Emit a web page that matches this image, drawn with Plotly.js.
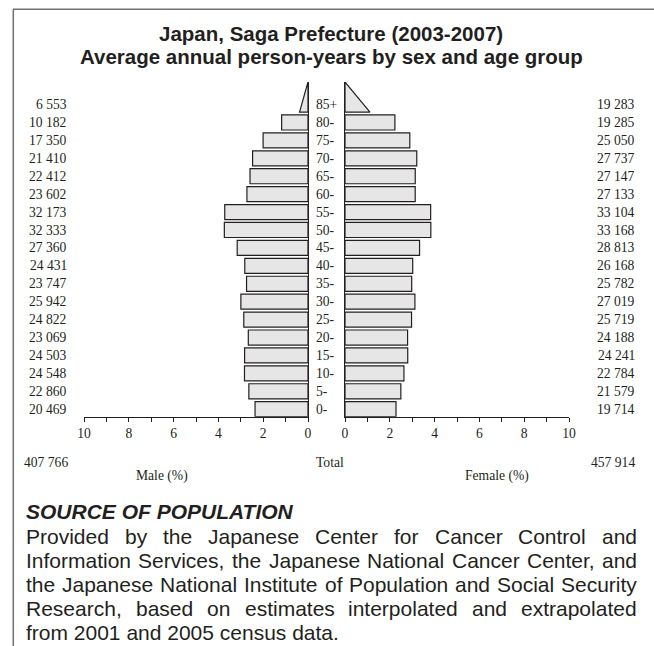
<!DOCTYPE html>
<html><head><meta charset="utf-8">
<script src="https://cdn.plot.ly/plotly-3.0.1.min.js"></script>
<style>html,body{margin:0;padding:0;background:#fff;} #chart{width:654px;height:646px;}</style>
</head><body><div id="chart"></div>
<script>
// ---- data ----
const ageGroups = ['0-','5-','10-','15-','20-','25-','30-','35-','40-','45-','50-','55-','60-','65-','70-','75-','80-','85+'];
const malePersonYears = [20469,22860,24548,24503,23069,24822,25942,23747,24431,27360,32333,32173,23602,22412,21410,17350,10182,6553];
const femalePersonYears = [19714,21579,22784,24241,24188,25719,27019,25782,26168,28813,33168,33104,27133,27147,27737,25050,19285,19283];
const maleTotal = 407766;
const femaleTotal = 457914;
const axisTicks = [0,2,4,6,8,10];
const titleLines = ['Japan, Saga Prefecture (2003-2007)','Average annual person-years by sex and age group'];
const sourceHeading = 'SOURCE OF POPULATION';
const sourceLines = [
  'Provided by the Japanese Center for Cancer Control and',
  'Information Services, the Japanese National Cancer Center, and',
  'the Japanese National Institute of Population and Social Security',
  'Research, based on estimates interpolated and extrapolated',
  'from 2001 and 2005 census data.'
];

// ---- derived ----
const W = 654, H = 646;
const grand = maleTotal + femaleTotal;
const malePct = malePersonYears.map(v => v / grand * 100);
const femalePct = femalePersonYears.map(v => v / grand * 100);
const n = ageGroups.length;
const idx = ageGroups.map((_, i) => i);
const last = n - 1;
const barW = 0.84;
const yLow = -barW / 2, yTop = last + 1.26;
const fmt = v => String(v).replace(/\B(?=(\d{3})+(?!\d))/g, ' ');
const ink = '#231f20', fill = '#e6e6e6';
const px = x => x / W, py = y => 1 - y / H;

const barLine = {color: ink, width: 1.2};
const traces = [
  {type:'bar', orientation:'h', x: malePct.slice(0, last), y: idx.slice(0, last), width: barW,
   marker:{color: fill, line: barLine}, xaxis:'x', yaxis:'y', hoverinfo:'none'},
  {type:'bar', orientation:'h', x: femalePct.slice(0, last), y: idx.slice(0, last), width: barW,
   marker:{color: fill, line: barLine}, xaxis:'x2', yaxis:'y2', hoverinfo:'none'},
  {type:'scatter', mode:'lines', x:[0, malePct[last]/2, 0, 0], y:[last+yLow, last+yLow, yTop, last+yLow],
   fill:'toself', fillcolor: fill, line:{color: ink, width: 1.2}, xaxis:'x', yaxis:'y', hoverinfo:'none'},
  {type:'scatter', mode:'lines', x:[0, femalePct[last]/2, 0, 0], y:[last+yLow, last+yLow, yTop, last+yLow],
   fill:'toself', fillcolor: fill, line:{color: ink, width: 1.2}, xaxis:'x2', yaxis:'y2', hoverinfo:'none'}
];

const serif = {family:'"Liberation Serif", "Times New Roman", serif', size:13.6, color: ink};
const sans = '"Liberation Sans", Arial, Helvetica, sans-serif';

const xBase = {
  ticks:'outside', ticklen:4, tickwidth:1, tickcolor: ink,
  tickmode:'array', tickvals: axisTicks, ticktext: axisTicks.map(String),
  minor:{ticks:'outside', ticklen:4, tickwidth:1, tickcolor: ink, tickmode:'linear', tick0:0, dtick:1},
  showline:true, linecolor: ink, linewidth:1, showgrid:false, zeroline:false,
  tickfont: serif, fixedrange:true
};
const yBase = {
  domain:[py(416.7), py(82)], range:[yLow, yTop], showline:true, linecolor: ink, linewidth:1,
  showgrid:false, zeroline:false, showticklabels:false, ticks:'', fixedrange:true
};

const annotations = [];
idx.forEach(i => {
  annotations.push({x: px(69), y: i, xref:'paper', yref:'y', xanchor:'right', yanchor:'middle', text: fmt(malePersonYears[i]), showarrow:false, font: serif});
  annotations.push({x: px(314), y: i, xref:'paper', yref:'y', xanchor:'left', yanchor:'middle', text: ageGroups[i], showarrow:false, font: serif});
  annotations.push({x: px(637), y: i, xref:'paper', yref:'y', xanchor:'right', yanchor:'middle', text: fmt(femalePersonYears[i]), showarrow:false, font: serif});
});
annotations.push({x: px(22), y: py(462), xref:'paper', yref:'paper', xanchor:'left', yanchor:'middle', text: fmt(maleTotal), showarrow:false, font: serif});
annotations.push({x: px(330), y: py(462), xref:'paper', yref:'paper', xanchor:'center', yanchor:'middle', text: 'Total', showarrow:false, font: serif});
annotations.push({x: px(637), y: py(462), xref:'paper', yref:'paper', xanchor:'right', yanchor:'middle', text: fmt(femaleTotal), showarrow:false, font: serif});
annotations.push({x: px(162), y: py(476), xref:'paper', yref:'paper', xanchor:'center', yanchor:'middle', text: 'Male (%)', showarrow:false, font: serif});
annotations.push({x: px(497), y: py(476), xref:'paper', yref:'paper', xanchor:'center', yanchor:'middle', text: 'Female (%)', showarrow:false, font: serif});

// title (two lines, tight leading)
titleLines.forEach((t, k) => {
  annotations.push({x: px(331), y: py(34 + 22 * k), xref:'paper', yref:'paper', xanchor:'center', yanchor:'middle',
    text: '<b>' + t + '</b>', showarrow:false, font:{family: sans, size:20.5, color: ink}});
});

// body text: size fitted so the longest natural line fills the column
const ctx = document.createElement('canvas').getContext('2d');
const left = 25, right = 636;
ctx.font = '18px "Liberation Sans"';
const natural = ctx.measureText(sourceLines[2]).width;
const bodySize = Math.min(21, 18 * 604 / natural);
ctx.font = bodySize + 'px "Liberation Sans"';

annotations.push({x: px(left - 1), y: py(511), xref:'paper', yref:'paper', xanchor:'left', yanchor:'middle',
  text: '<b><i>' + sourceHeading + '</i></b>', showarrow:false, font:{family: sans, size: bodySize, color: ink}});

sourceLines.forEach((line, k) => {
  const yc = 536 + 24 * k;
  const justify = k < sourceLines.length - 1;
  if (!justify) {
    annotations.push({x: px(left - 1), y: py(yc), xref:'paper', yref:'paper', xanchor:'left', yanchor:'middle',
      text: line, showarrow:false, font:{family: sans, size: bodySize, color: ink}});
    return;
  }
  const words = line.split(' ');
  const widths = words.map(w => ctx.measureText(w).width);
  const total = widths.reduce((a, b) => a + b, 0);
  const gap = (right - left - total) / (words.length - 1);
  let x = left;
  words.forEach((w, j) => {
    annotations.push({x: px(x - 1), y: py(yc), xref:'paper', yref:'paper', xanchor:'left', yanchor:'middle',
      text: w, showarrow:false, font:{family: sans, size: bodySize, color: ink}});
    x += widths[j] + gap;
  });
});

const layout = {
  width: W, height: H, margin:{l:0, r:0, t:0, b:0}, showlegend:false,
  paper_bgcolor:'#fff', plot_bgcolor:'rgba(0,0,0,0)', bargap:0,
  xaxis: Object.assign({}, xBase, {domain:[px(84), px(308)], range:[10, 0], anchor:'y'}),
  xaxis2: Object.assign({}, xBase, {domain:[px(345), px(569)], range:[0, 10], anchor:'y2'}),
  yaxis: Object.assign({}, yBase, {anchor:'x', side:'right'}),
  yaxis2: Object.assign({}, yBase, {anchor:'x2', side:'left', matches:'y'}),
  annotations: annotations,
  shapes: [
    {type:'line', xref:'paper', yref:'paper', x0: px(13), x1: 1, y0: py(9.3), y1: py(9.3), line:{color:'#707070', width:1.5}},
    {type:'line', xref:'paper', yref:'paper', x0: px(13.3), x1: px(13.3), y0: 0, y1: py(9.3), line:{color:'#707070', width:1.5}}
  ]
};
Plotly.newPlot('chart', traces, layout, {staticPlot:true, displayModeBar:false});
</script></body></html>
